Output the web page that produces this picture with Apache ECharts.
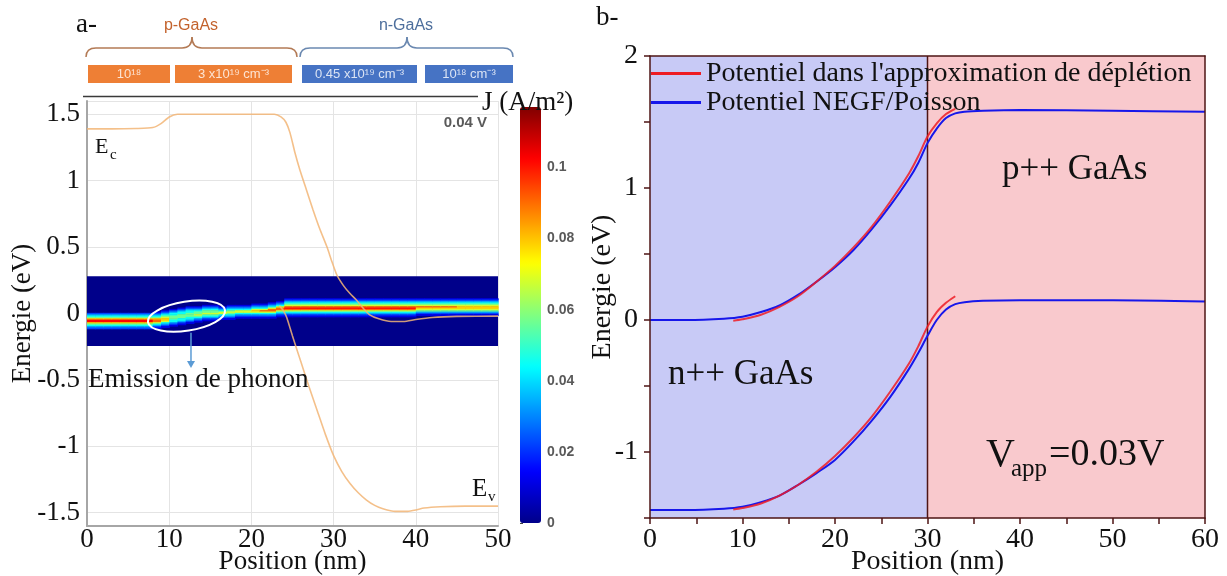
<!DOCTYPE html>
<html><head><meta charset="utf-8">
<script src="https://cdn.jsdelivr.net/npm/echarts@6/dist/echarts.min.js"></script>
<style>html,body{margin:0;padding:0;background:#fff}#c{width:1227px;height:576px}</style>
</head><body><div id="c"></div>
<script>
// ================= DATA =================
// Panel a: band edges (x in nm, E in eV)
const ecCurve = [[0,1.39],[3,1.39],[6,1.393],[8,1.40],[9,1.43],[10,1.48],[11,1.50],[15,1.50],[20,1.50],[22.8,1.50],[23.6,1.48],[24.2,1.44],[24.7,1.36],[25.3,1.21],[25.9,1.08],[26.7,0.93],[27.5,0.78],[28.3,0.64],[29.2,0.50],[29.8,0.39],[30.4,0.29],[31.2,0.21],[32.0,0.15],[32.8,0.10],[33.6,0.04],[34.4,-0.01],[35.5,-0.04],[37.0,-0.06],[38.5,-0.06],[40.0,-0.045],[42,-0.03],[45,-0.022],[50,-0.02]];
const evCurve = [[23.4,0.06],[23.9,0.02],[24.3,-0.03],[25,-0.17],[26,-0.36],[27,-0.55],[28,-0.73],[29,-0.91],[30,-1.07],[31,-1.19],[32,-1.28],[33,-1.35],[34,-1.405],[35,-1.445],[36,-1.47],[37.5,-1.49],[39,-1.49],[40,-1.48],[41,-1.465],[43,-1.455],[46,-1.45],[50,-1.45]];
// Current-density map: computation window [xmin, xmax, Emin, Emax]
const jWindow = [0, 50, -0.245, 0.28];
// column left edges (nm), row centre energies (eV)
const jColX = [0,1,2,3,4,5,6,7,8,9,10,11,12,13,14,15,16,17,18,19,20,21,22,23,24,25,26,27,28,29,30,31,32,33,34,35,36,37,38,39,40,41,42,43,44,45,46,47,48,49];
const jRowE = [0.12,0.11,0.10,0.09,0.08,0.07,0.06,0.05,0.04,0.03,0.02,0.01,0.00,-0.01,-0.02,-0.03,-0.04,-0.05,-0.06,-0.07,-0.08,-0.09,-0.10,-0.11,-0.12,-0.13];
// level codes per 1-nm column (one char per energy row, top to bottom); J = level * jLevelStep
const jLevels = [
  "00000000000023457997543200", "00000000000023457997543200", "00000000000023457997543200", "00000000000023457997543200",
  "00000000000023457997543200", "00000000000023457997543200", "00000000000023457997543200", "00000000000023457997543200",
  "00000000000123457886432100", "00000000001234567764321000",
  "00000000012344555443210000", "00000000123445554432100000", "00000001234455544321000000",
  "00000001234556543210000000", "00000012345565432100000000", "00000012345565432100000000",
  "00000001234664321000000000", "00000012345654321000000000",
  "00000012346643210000000000", "00000012346643210000000000",
  "00000123467643210000000000", "00000123468643210000000000",
  "00001234688643210000000000", "00012346886432100000000000",
  "01234568986432100000000000", "01234568986432100000000000", "01234568986432100000000000", "01234568986432100000000000",
  "01234568986432100000000000", "01234568986432100000000000", "01234568986432100000000000", "01234568986432100000000000",
  "01234568986432100000000000", "01234568986432100000000000", "01234568986432100000000000", "01234568986432100000000000",
  "01234568986432100000000000", "01234568986432100000000000", "01234568986432100000000000", "01234568986432100000000000",
  "01234568765321000000000000", "01234568765321000000000000", "01234568765321000000000000", "01234568765321000000000000",
  "01234568765321000000000000",
  "01234567765321000000000000", "01234567765321000000000000", "01234567765321000000000000", "01234567765321000000000000",
  "01234567765321000000000000"
];
const jLevelStep = 0.0113;
const jMax = 0.117;
const cbTicks = [0, 0.02, 0.04, 0.06, 0.08, 0.1];

// Panel b: potentials (x in nm, E in eV)
const depUpper  = [[9,-0.005],[10,0.005],[12,0.04],[14,0.10],[16,0.18],[18,0.29],[20,0.41],[22,0.55],[24,0.71],[26,0.90],[28,1.11],[29,1.24],[30,1.39],[31,1.49],[32,1.56],[33,1.60]];
const negfUpper = [[0,0.0],[4,0.0],[8,0.01],[10,0.025],[12,0.06],[14,0.11],[16,0.19],[18,0.29],[20,0.40],[22,0.53],[24,0.69],[26,0.87],[28,1.07],[29,1.19],[30,1.34],[31,1.45],[32,1.53],[33,1.565],[34,1.578],[36,1.585],[40,1.59],[50,1.585],[60,1.578]];
const depLower  = [[9,-1.435],[10,-1.425],[12,-1.39],[14,-1.33],[16,-1.25],[18,-1.15],[20,-1.03],[22,-0.89],[24,-0.73],[26,-0.54],[28,-0.33],[29,-0.20],[30,-0.05],[31,0.06],[32,0.13],[33,0.18]];
const negfLower = [[0,-1.44],[4,-1.44],[8,-1.43],[10,-1.415],[12,-1.38],[14,-1.33],[16,-1.25],[18,-1.16],[20,-1.06],[22,-0.92],[24,-0.76],[26,-0.58],[28,-0.37],[29,-0.25],[30,-0.12],[31,0.0],[32,0.08],[33,0.12],[34,0.135],[36,0.145],[40,0.15],[50,0.15],[60,0.14]];
const regionsB = [[0,30],[30,60]];  // n++ | p++
const NAME_DEP = "Potentiel dans l'approximation de déplétion";
const NAME_NEGF = "Potentiel NEGF/Poisson";

// ================= BUILD =================
const SERIF = "'Liberation Serif', 'Times New Roman', serif";
const SANS = "'Liberation Sans', Arial, sans-serif";
const MAROON = '#4e1515';
const regionColors = ['#c8caf6', '#f9c9cd'];
const jet = ['#00008a','#0000ff','#0080ff','#00ffff','#80ff80','#ffff00','#ff8000','#ff0000','#800000'];

const heatData = [];
jLevels.forEach((col, ci) => {
  const w = (ci + 1 < jColX.length ? jColX[ci + 1] : jWindow[1]) - jColX[ci];
  for (let ri = 0; ri < col.length; ri++) {
    const lv = +col[ri];
    if (lv > 0) heatData.push([jColX[ci], jRowE[ri], lv * jLevelStep, w]);
  }
});
const cellH = jRowE[0] - jRowE[1];

const axisFont = {fontFamily: SERIF, color: '#111'};

const option = {
  animation: false,
  backgroundColor: '#fff',
  grid: [
    {left: 87, top: 101, width: 411, height: 425, outerBoundsMode: 'none', containLabel: false},
    {left: 520, top: 107, width: 21, height: 416, outerBoundsMode: 'none', containLabel: false},
    {left: 650, top: 56, width: 555, height: 462, outerBoundsMode: 'none', containLabel: false}
  ],
  xAxis: [
    {gridIndex: 0, type: 'value', min: 0, max: 50, interval: 10,
     axisLine: {show: true, onZero: false, lineStyle: {color: '#a6a6a6', width: 2}},
     axisTick: {show: false},
     splitLine: {show: true, lineStyle: {color: '#e4e4e4', width: 1}},
     axisLabel: Object.assign({fontSize: 27, margin: 0}, axisFont),
     name: 'Position (nm)', nameLocation: 'middle', nameGap: 22, nameMoveOverlap: false,
     nameTextStyle: Object.assign({fontSize: 27}, axisFont)},
    {gridIndex: 1, type: 'value', min: 0, max: 1, show: false},
    {gridIndex: 2, type: 'value', min: 0, max: 60, interval: 5, z: 10,
     axisLine: {show: true, onZero: false, lineStyle: {color: MAROON, width: 1.5}},
     axisTick: {show: true, length: 6, lineStyle: {color: MAROON, width: 1.5}},
     splitLine: {show: false},
     axisLabel: Object.assign({fontSize: 28, margin: 8, formatter: v => (v % 10 === 0 ? String(v) : '')}, axisFont),
     name: 'Position (nm)', nameLocation: 'middle', nameGap: 30, nameMoveOverlap: false,
     nameTextStyle: Object.assign({fontSize: 28}, axisFont)},
    {gridIndex: 2, type: 'value', min: 0, max: 60, position: 'top', z: 10,
     axisLine: {show: true, onZero: false, lineStyle: {color: MAROON, width: 1.5}},
     axisTick: {show: false}, axisLabel: {show: false}, splitLine: {show: false}}
  ],
  yAxis: [
    {gridIndex: 0, type: 'value', min: -1.6, max: 1.6, splitNumber: 6,
     axisLine: {show: true, onZero: false, lineStyle: {color: '#a6a6a6', width: 2}},
     axisTick: {show: false},
     splitLine: {show: true, lineStyle: {color: '#e4e4e4', width: 1}},
     axisLabel: Object.assign({fontSize: 27, margin: 7, showMinLabel: false, showMaxLabel: false}, axisFont),
     name: 'Energie (eV)', nameLocation: 'middle', nameGap: 51, nameRotate: 90, nameMoveOverlap: false,
     nameTextStyle: Object.assign({fontSize: 27}, axisFont)},
    {gridIndex: 1, type: 'value', min: 0, max: jMax, position: 'right',
     axisLine: {show: false},
     axisTick: {show: true, length: 3, customValues: cbTicks, lineStyle: {color: '#444'}},
     splitLine: {show: false},
     axisLabel: {customValues: cbTicks, fontFamily: SANS, fontSize: 14, fontWeight: 'bold', color: '#5a5a5a', margin: 6,
                 formatter: v => String(Math.round(v * 100) / 100)}},
    {gridIndex: 2, type: 'value', min: -1.5, max: 2, interval: 0.5, z: 10,
     axisLine: {show: true, onZero: false, lineStyle: {color: MAROON, width: 1.5}},
     axisTick: {show: true, length: 6, lineStyle: {color: MAROON, width: 1.5}},
     splitLine: {show: false},
     axisLabel: Object.assign({fontSize: 28, margin: 12, formatter: v => (Number.isInteger(v) ? String(v) : '')}, axisFont),
     name: 'Energie (eV)', nameLocation: 'middle', nameGap: 33, nameRotate: 90, nameMoveOverlap: false,
     nameTextStyle: Object.assign({fontSize: 28}, axisFont)},
    {gridIndex: 2, type: 'value', min: -1.5, max: 2, position: 'right', z: 10,
     axisLine: {show: true, onZero: false, lineStyle: {color: MAROON, width: 1.5}},
     axisTick: {show: false}, axisLabel: {show: false}, splitLine: {show: false}}
  ],
  visualMap: {
    type: 'continuous', min: 0, max: jMax, seriesIndex: 1, dimension: 2,
    left: 520, top: 107, itemWidth: 21, itemHeight: 416, padding: 0,
    calculable: false, hoverLink: false, show: true,
    inRange: {color: jet}
  },
  legend: {
    data: [NAME_DEP, NAME_NEGF], orient: 'vertical', left: 651, top: 59,
    itemWidth: 50, itemHeight: 3, itemGap: 0, icon: 'rect', padding: 0, selectedMode: false,
    textStyle: {fontFamily: SERIF, fontSize: 28, color: '#111', lineHeight: 29}
  },
  series: [
    {type: 'custom', name: 'window', xAxisIndex: 0, yAxisIndex: 0, z: 1, silent: true,
     data: [jWindow],
     renderItem: (params, api) => {
       const a = api.coord([api.value(0), api.value(3)]);
       const b = api.coord([api.value(1), api.value(2)]);
       return {type: 'rect', shape: {x: a[0], y: a[1], width: b[0] - a[0], height: b[1] - a[1]}, style: {fill: jet[0]}};
     }},
    {type: 'custom', name: 'J', xAxisIndex: 0, yAxisIndex: 0, z: 2, silent: true,
     dimensions: ['x', 'e', 'j', 'w'], data: heatData,
     renderItem: (params, api) => {
       const x0 = api.value(0), e = api.value(1), w = api.value(3);
       const a = api.coord([x0, e + cellH / 2]);
       const b = api.coord([x0 + w, e - cellH / 2]);
       return {type: 'rect', shape: {x: a[0], y: a[1], width: b[0] - a[0] + 0.6, height: b[1] - a[1] + 0.5}, style: {fill: api.visual('color')}};
     }},
    {type: 'line', name: 'Ec', xAxisIndex: 0, yAxisIndex: 0, z: 3, data: ecCurve, smooth: 0.2, showSymbol: false, silent: true,
     lineStyle: {color: '#f2b575', width: 1.6, opacity: 0.85}},
    {type: 'line', name: 'Ev', xAxisIndex: 0, yAxisIndex: 0, z: 3, data: evCurve, smooth: 0.2, showSymbol: false, silent: true,
     lineStyle: {color: '#f2b575', width: 1.6, opacity: 0.85}},
    {type: 'custom', name: 'regions', xAxisIndex: 2, yAxisIndex: 2, z: 1, silent: true,
     data: regionsB,
     renderItem: (params, api) => {
       const cs = params.coordSys;
       const a = api.coord([api.value(0), 0]);
       const b = api.coord([api.value(1), 0]);
       const children = [{type: 'rect', shape: {x: a[0], y: cs.y, width: b[0] - a[0], height: cs.height}, style: {fill: regionColors[params.dataIndex]}}];
       if (params.dataIndex > 0) children.push({type: 'line', shape: {x1: a[0], y1: cs.y, x2: a[0], y2: cs.y + cs.height}, style: {stroke: MAROON, lineWidth: 1.5}});
       return {type: 'group', children};
     }},
    {type: 'line', name: NAME_NEGF, xAxisIndex: 2, yAxisIndex: 2, z: 3, data: negfUpper, smooth: 0.3, showSymbol: false,
     color: '#1717ea', lineStyle: {color: '#1717ea', width: 2}},
    {type: 'line', name: NAME_NEGF, xAxisIndex: 2, yAxisIndex: 2, z: 3, data: negfLower, smooth: 0.3, showSymbol: false,
     color: '#1717ea', lineStyle: {color: '#1717ea', width: 2}},
    {type: 'line', name: NAME_DEP, xAxisIndex: 2, yAxisIndex: 2, z: 4, data: depUpper, smooth: 0.3, showSymbol: false,
     color: '#ee1c24', lineStyle: {color: '#ee1c24', width: 2, opacity: 0.85}},
    {type: 'line', name: NAME_DEP, xAxisIndex: 2, yAxisIndex: 2, z: 4, data: depLower, smooth: 0.3, showSymbol: false,
     color: '#ee1c24', lineStyle: {color: '#ee1c24', width: 2, opacity: 0.85}}
  ]
};

const chart = echarts.init(document.getElementById('c'));
chart.setOption(option);

// ================= ANNOTATIONS =================
function txt(x, y, text, size, opts) {
  return {type: 'text', x: x, y: y, silent: true, z: 100,
    style: Object.assign({text: text, fontSize: size, fontFamily: SERIF, fill: '#111', align: 'left', verticalAlign: 'middle'}, (opts || {}))};
}
function brace(xl, xm, xr, yBase, yLine, yTip, color) {
  const st = {stroke: color, lineWidth: 1.5, fill: 'none'};
  const r = 10;
  return [
    {type: 'bezierCurve', silent: true, shape: {x1: xl, y1: yBase, cpx1: xl, cpy1: yLine, x2: xl + r, y2: yLine}, style: st},
    {type: 'line', silent: true, shape: {x1: xl + r, y1: yLine, x2: xm - r, y2: yLine}, style: st},
    {type: 'bezierCurve', silent: true, shape: {x1: xm - r, y1: yLine, cpx1: xm, cpy1: yLine, x2: xm, y2: yTip}, style: st},
    {type: 'bezierCurve', silent: true, shape: {x1: xm, y1: yTip, cpx1: xm, cpy1: yLine, x2: xm + r, y2: yLine}, style: st},
    {type: 'line', silent: true, shape: {x1: xm + r, y1: yLine, x2: xr - r, y2: yLine}, style: st},
    {type: 'bezierCurve', silent: true, shape: {x1: xr - r, y1: yLine, cpx1: xr, cpy1: yLine, x2: xr, y2: yBase}, style: st}
  ];
}
const P = (x, y) => chart.convertToPixel({gridIndex: 0}, [x, y]);
const ellC = P(12.1, -0.02);
const arrTop = P(12.65, -0.145);
const arrEnd = P(12.65, -0.41);

const boxes = [
  {x0: 88, x1: 170, fill: '#ee7f35', tc: '#fde4d3', t: '10¹⁸'},
  {x0: 175, x1: 292, fill: '#ee7f35', tc: '#fde4d3', t: '3 x10¹⁹ cm⁻³'},
  {x0: 302, x1: 417, fill: '#4673c4', tc: '#dbe4f4', t: '0.45 x10¹⁹ cm⁻³'},
  {x0: 425, x1: 513, fill: '#4673c4', tc: '#dbe4f4', t: '10¹⁸ cm⁻³'}
];
let g = [];
g.push(txt(76, 25, 'a-', 27));
g.push(txt(596, 18, 'b-', 27));
g.push(txt(191, 26, 'p-GaAs', 16, {fontFamily: SANS, fill: '#c3622c', align: 'center'}));
g.push(txt(406, 26, 'n-GaAs', 16, {fontFamily: SANS, fill: '#4d6e9c', align: 'center'}));
g = g.concat(brace(86, 192, 297, 57, 48, 37, '#b37a55'));
g = g.concat(brace(300, 407, 513, 57, 48, 37, '#6a88b0'));
boxes.forEach(b => {
  g.push({type: 'rect', silent: true, shape: {x: b.x0, y: 65, width: b.x1 - b.x0, height: 18}, style: {fill: b.fill}});
  g.push(txt((b.x0 + b.x1) / 2, 74, b.t, 13, {fontFamily: SANS, fill: b.tc, align: 'center'}));
});
g.push({type: 'line', silent: true, shape: {x1: 83, y1: 96.5, x2: 478, y2: 96.5}, style: {stroke: '#3a3a3a', lineWidth: 1.5}});
g.push(txt(482, 103, 'J (A/m²)', 27));
g.push(txt(487, 123, '0.04 V', 15, {fontFamily: SANS, fontWeight: 'bold', fill: '#5a5a5a', align: 'right'}));
g.push(txt(95, 147, 'E', 22));
g.push(txt(110, 155, 'c', 15));
g.push(txt(472, 489, 'E', 25));
g.push(txt(488, 497, 'v', 15));
g.push({type: 'ellipse', silent: true, z: 100, x: ellC[0], y: ellC[1], rotation: 0.155,
        shape: {cx: 0, cy: 0, rx: 39, ry: 14.5}, style: {fill: 'none', stroke: '#ffffff', lineWidth: 2}});
g.push({type: 'line', silent: true, z: 100, shape: {x1: arrTop[0], y1: arrTop[1], x2: arrEnd[0], y2: arrEnd[1] - 6}, style: {stroke: '#5b9bd5', lineWidth: 1.5}});
g.push({type: 'polygon', silent: true, z: 100, shape: {points: [[arrEnd[0] - 4, arrEnd[1] - 7], [arrEnd[0] + 4, arrEnd[1] - 7], [arrEnd[0], arrEnd[1]]]}, style: {fill: '#5b9bd5'}});
g.push(txt(88, 380, 'Emission de phonon', 27));
g.push(txt(1002, 170, 'p++ GaAs', 35));
g.push(txt(668, 375, 'n++ GaAs', 35));
g.push(txt(986, 455, 'V', 40));
g.push(txt(1011, 469, 'app', 25));
g.push(txt(1049, 455, '=0.03V', 38));
chart.setOption({graphic: {elements: g}});
</script>
</body></html>
